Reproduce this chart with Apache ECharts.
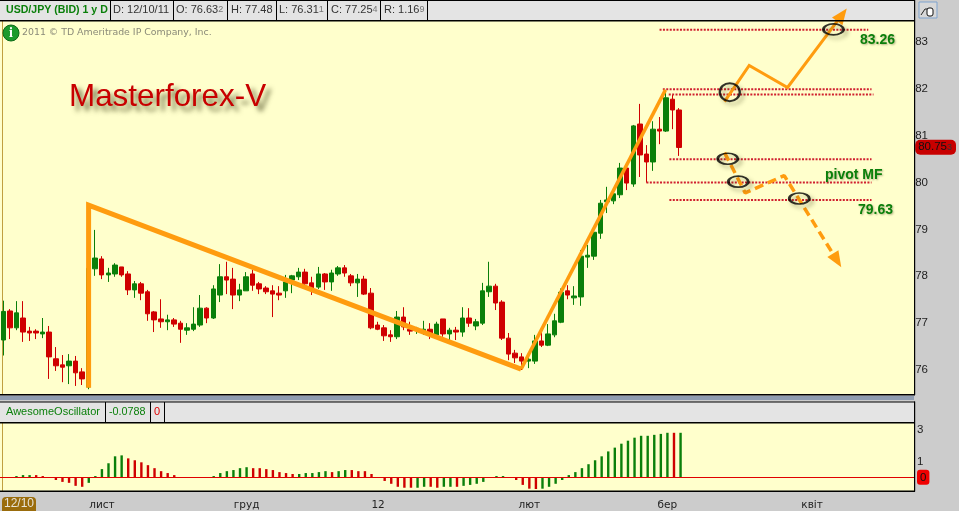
<!DOCTYPE html>
<html><head><meta charset="utf-8">
<style>html,body{margin:0;padding:0;background:#ccc}#c{width:959px;height:511px}</style>
<script src="https://cdn.jsdelivr.net/npm/echarts@6/dist/echarts.min.js"></script>
</head><body><div id="c"></div>
<script>
const opens=[76.64,77.26,76.90,77.11,76.83,76.83,76.77,76.81,76.24,76.11,76.09,76.19,75.96,75.64,78.16,78.37,78.03,78.05,78.20,78.05,77.71,77.84,77.67,77.24,77.09,77.03,77.07,77.00,76.85,76.87,76.96,77.32,77.11,77.60,77.99,77.94,77.60,77.69,78.05,77.84,77.75,77.69,77.64,77.69,77.92,77.99,78.09,77.86,77.77,78.05,77.88,78.05,78.18,78.01,77.86,77.94,77.64,76.96,76.90,76.75,76.71,77.13,76.87,76.85,76.83,76.87,76.75,77.09,76.77,76.85,76.81,77.11,76.94,77.00,77.67,77.79,77.45,76.68,76.36,76.28,76.19,76.19,76.62,76.53,76.75,77.02,77.69,77.54,77.56,78.41,78.43,78.92,79.59,79.61,79.74,80.31,79.97,81.25,80.61,80.44,81.14,81.10,81.78,81.55];
const closes=[77.25,76.90,77.22,76.81,76.79,76.79,76.81,76.28,76.09,76.06,76.19,75.94,75.81,78.17,78.39,78.03,78.07,78.24,78.03,77.71,77.84,77.64,77.20,77.07,77.03,77.07,76.98,76.87,76.90,76.98,77.32,77.11,77.73,77.99,77.92,77.60,77.71,77.99,77.81,77.73,77.67,77.62,77.60,77.88,78.01,78.09,77.84,77.75,78.05,77.88,78.07,78.18,78.07,77.86,77.94,77.62,76.90,76.87,76.73,76.71,77.13,76.92,76.83,76.89,76.87,76.75,76.98,76.77,76.85,76.81,77.11,77.00,77.03,77.69,77.79,77.43,76.68,76.34,76.26,76.19,76.23,76.62,76.53,76.77,77.05,77.66,77.60,77.58,78.43,78.45,78.94,79.56,79.63,79.76,80.31,79.99,81.21,80.59,80.44,81.14,81.10,81.81,81.55,80.75];
const lows=[76.31,76.66,76.85,76.60,76.62,76.66,76.68,75.81,75.98,75.74,75.70,75.66,75.68,75.59,78.01,77.94,77.88,77.99,77.99,77.60,77.54,77.49,77.05,76.81,76.90,76.85,76.92,76.58,76.75,76.83,76.92,77.00,77.09,77.45,77.62,77.30,77.47,77.69,77.69,77.62,77.62,77.13,77.49,77.54,77.64,77.92,77.81,77.60,77.73,77.71,77.69,78.01,77.99,77.79,77.56,77.60,76.87,76.85,76.62,76.60,76.66,76.85,76.75,76.77,76.75,76.66,76.75,76.71,76.64,76.64,76.71,76.92,76.85,76.96,77.56,77.28,76.64,76.21,76.15,76.00,76.04,76.13,76.49,76.51,76.70,77.00,77.51,77.39,77.37,78.18,78.35,78.80,79.35,79.54,79.67,79.84,79.91,80.12,80.00,80.25,80.82,81.08,81.14,80.57];
const highs=[77.48,77.30,77.47,77.47,76.92,76.87,77.11,76.94,76.49,76.32,76.34,76.30,76.04,79.54,78.99,78.43,78.18,78.28,78.20,78.11,77.90,77.88,77.71,77.26,77.51,77.18,77.11,77.05,77.00,77.34,77.60,77.34,77.81,78.26,78.31,78.18,77.84,78.09,78.14,77.88,77.79,77.81,77.79,78.03,78.03,78.18,78.16,77.99,78.20,78.07,78.14,78.22,78.24,78.05,78.05,78.01,77.75,77.03,76.96,76.85,77.26,77.34,77.03,76.92,77.05,77.00,77.03,77.09,76.90,76.92,77.34,77.32,77.09,77.86,78.31,77.84,77.49,76.79,76.43,76.36,76.32,76.75,76.81,76.98,77.20,77.74,77.81,77.79,78.56,78.67,78.94,79.63,79.91,79.86,80.42,80.31,81.23,81.68,80.80,81.31,81.40,81.98,81.87,81.59];
const aoValues=[null,null,0.08,0.14,0.14,0.14,0.08,null,-0.17,-0.29,-0.35,-0.54,-0.6,-0.35,0.08,0.52,0.89,1.33,1.39,1.2,1.08,0.95,0.77,0.58,0.39,0.27,0.14,null,null,null,0.02,null,0.08,0.27,0.39,0.46,0.58,0.64,0.58,0.58,0.52,0.46,0.33,0.27,0.21,0.21,0.27,0.27,0.33,0.39,0.33,0.39,0.46,0.46,0.39,0.39,0.21,null,-0.23,-0.41,-0.6,-0.66,-0.66,-0.66,-0.6,-0.6,-0.66,-0.6,-0.6,-0.6,-0.54,-0.48,-0.41,-0.29,null,0.08,0.08,null,-0.17,-0.48,-0.72,-0.79,-0.72,-0.6,-0.41,-0.17,0.14,0.33,0.58,0.83,1.08,1.33,1.64,1.88,2.13,2.32,2.51,2.63,2.63,2.69,2.75,2.82,2.82,2.82];
const aoRising=[1,1,1,1,1,0,0,0,0,0,0,0,0,1,1,1,1,1,1,0,0,0,0,0,0,0,0,0,1,1,1,1,1,1,1,1,1,1,0,0,0,0,0,0,0,1,1,1,1,1,0,1,1,0,0,0,0,0,0,0,0,0,0,1,1,0,0,1,1,0,1,1,1,1,1,1,1,0,0,0,0,0,1,1,1,1,1,1,1,1,1,1,1,1,1,1,1,1,1,1,1,1,0,1];
const monthTicks=[15,37,57,80,101,123];
const monthNames=['лист','груд','12','лют','бер','квіт'];
const priceTicks=[76,77,78,79,80,81,82,83];
const lastPrice=80.753;
const aoTicks=[0,1,3];
const legDown=[[13,75.62],[13,79.52],[78.9,76.02]];
const legUp=[[78.9,76.02],[100.9,81.98]];
const scenarioUp=[[109.9,81.73],[113.66,82.50],[119.5,82.03],[127.8,83.58]];
const scenarioDown=[[109.9,80.64],[113.05,79.78],[119.0,80.15],[127.05,78.34]];
const levelPrices=[83.26,81.99,81.88,80.50,80.00,79.63];
const levelFrom=[100,100.5,101.4,101.5,98,101.5];
const levelTo=[131.8,132.3,132.6,132.3,132.3,132.3];
const circled=[[126.5,83.27],[110.7,81.93],[110.4,80.51],[112.0,80.02],[121.3,79.66]];
const bandCount=139;

const categories=Array.from({length:bandCount},(_,i)=>{const k=monthTicks.indexOf(i);return k>=0?monthNames[k]:''});
const candles=opens.map((o,i)=>[o,closes[i],lows[i],highs[i]]);
const GREEN='#0a7f0a',RED='#cf0000',ORANGE='#ff9c0f',FONT='"Liberation Sans",Arial,sans-serif';

function rect(x,y,w,h,fill,z,extra){return Object.assign({type:'rect',shape:{x,y,width:w,height:h},style:{fill},z:z||0,silent:true},extra||{})}
function txt(x,y,t,fill,size,extra,z){return {type:'text',x,y,z:z||20,silent:true,style:Object.assign({text:t,fill,font:(size||11)+'px '+FONT,textVerticalAlign:'middle'},extra||{})}}
function valueCell(x,main,tail){return {type:'text',x,y:10,z:20,silent:true,style:{text:'{m|'+main+'}{s|'+tail+'}',textVerticalAlign:'middle',rich:{m:{font:'11px '+FONT,fill:'#333'},s:{font:'9px '+FONT,fill:'#777'}}}}}
const softShadow={textShadowColor:'rgba(70,70,30,0.4)',textShadowBlur:2,textShadowOffsetX:1,textShadowOffsetY:1};

const gfx=[
 rect(0,21,914,373,'#ffffcc'),rect(0,423,914,68,'#ffffcc'),
 rect(0,1,914,19,'#e4e4e4'),rect(0,402,914,20,'#e4e4e4'),
 rect(0,396,914,4,'#8f9cb0'),
 rect(2,21,1,373,'#c0a040',1),rect(2,423,1,68,'#c0a040',1),
 rect(0,0,915,1,'#000',10),rect(0,20,915,1.5,'#000',10),rect(0,394,915,1.5,'#000',10),
 rect(0,401.5,915,1,'#000',10),rect(0,422,915,1.5,'#000',10),rect(0,490.5,915,1.5,'#000',10),
 rect(914,0,1.2,395,'#000',10),rect(914,401.5,1.2,90,'#000',10),
 ...[110,173,227,276,327,380,427].map(x=>rect(x,1,1,19,'#000',10)),
 ...[105,150,164].map(x=>rect(x,402,1,20,'#000',10)),
 txt(6,10,'USD/JPY (BID) 1 y D',GREEN,11,{font:'bold 10.6px '+FONT}),
 txt(113,10,'D: 12/10/11','#333',11),
 valueCell(176,'O: 76.63','2'),
 txt(231,10,'H: 77.48','#333',11),
 valueCell(279,'L: 76.31','1'),
 valueCell(331,'C: 77.25','4'),
 valueCell(384,'R: 1.16','9'),
 txt(6,412,'AwesomeOscillator',GREEN,11),
 txt(109,412,'-0.0788',GREEN,10.8),
 txt(154,412,'0','#e00000',11),
 {type:'circle',shape:{cx:11,cy:33,r:8},z:15,silent:true,style:{fill:'#1c9a2c',stroke:'#0c6a18',lineWidth:1}},
 txt(11,33,'i','#fff',13,{font:'bold 14px "Liberation Serif",serif',textAlign:'center'}),
 txt(22,33,'2011 © TD Ameritrade IP Company, Inc.','#8a8a78',9.4,{font:'9.4px "DejaVu Sans",sans-serif'}),
 txt(69,97,'Masterforex-V','#c80000',31.4,{font:'31.4px '+FONT,textShadowColor:'rgba(70,70,30,0.75)',textShadowBlur:5,textShadowOffsetX:5,textShadowOffsetY:5}),
 txt(860,40,'83.26',GREEN,14,Object.assign({font:'bold 14px '+FONT},softShadow)),
 txt(858,210,'79.63',GREEN,14,Object.assign({font:'bold 14px '+FONT},softShadow)),
 txt(825,175,'pivot MF',GREEN,14,Object.assign({font:'bold 14px '+FONT},softShadow)),
 rect(919,2,18,16,'#e4e4e4',12,{style:{fill:'#d8d8d8',stroke:'#7fa3cf',lineWidth:1}}),
 {type:'polyline',z:13,silent:true,shape:{points:[[921,15],[925,9],[932,9]]},style:{stroke:'#222',lineWidth:1,fill:null}},
 {type:'rect',z:13,silent:true,shape:{x:927,y:8,width:6,height:8,r:2},style:{fill:'#fff',stroke:'#111',lineWidth:1}},
 {type:'rect',z:15,silent:true,shape:{x:2,y:497,width:34,height:14,r:[4,4,0,0]},style:{fill:'#9a6c0c'}},
 txt(19,504,'12/10','#e8e4d8',12,{textAlign:'center',font:'12px '+FONT}),
];

const upDownColor=params=>aoRising[params.dataIndex]?GREEN:RED;
const dotted={color:'#d0202f',width:2,type:[2,1.4],cap:'butt'};
const thick=w=>({color:ORANGE,width:w,join:'miter',cap:'butt'});
function overlay(name,data,w,extra){return Object.assign({name,type:'line',xAxisIndex:2,yAxisIndex:0,data,symbol:'none',clip:false,silent:true,z:6,lineStyle:thick(w),animation:false},extra||{})}
function withArrow(points,rotate){return points.map((p,i)=>i===points.length-1?{value:p,symbol:'triangle',symbolSize:[13,16],symbolRotate:rotate,itemStyle:{color:ORANGE}}:{value:p})}
const ellipseSize=(v,p)=>p.dataIndex===1?[20,18]:[20,11];

const levelSeries=levelPrices.map((p,i)=>({type:'line',name:'level '+p,xAxisIndex:2,yAxisIndex:0,data:[[levelFrom[i],p],[levelTo[i],p]],symbol:'none',silent:true,z:5,lineStyle:dotted,animation:false}));

const option={
 animation:false,backgroundColor:'#cccccc',
 textStyle:{fontFamily:FONT},
 graphic:{elements:gfx},
 grid:[{left:0,top:21,width:914,height:373,containLabel:false},{left:0,top:423,width:914,height:68,containLabel:false}],
 xAxis:[
  {type:'category',gridIndex:0,data:categories,show:false,boundaryGap:true},
  {type:'category',gridIndex:1,data:categories,boundaryGap:true,position:'bottom',
   axisLine:{show:false},axisTick:{show:false},splitLine:{show:false},
   axisLabel:{interval:0,hideOverlap:false,color:'#222',margin:11,fontSize:10.5,fontFamily:'"DejaVu Sans",sans-serif'},z:3},
  {type:'value',gridIndex:0,show:false,min:-0.5,max:bandCount-0.5,splitLine:{show:false}}
 ],
 yAxis:[
  {type:'value',gridIndex:0,position:'right',min:75.488,max:83.449,scale:true,
   axisLine:{show:false},axisTick:{show:false},splitLine:{show:false},
   axisLabel:{customValues:[...priceTicks,lastPrice],margin:3,fontSize:11.5,color:'#222',fontFamily:FONT,
    formatter:v=>{if(v===lastPrice){const s=v.toFixed(3);return '{a|'+s.slice(0,5)+'}{b|'+s.slice(5)+'}'}return String(v)},
    rich:{a:{backgroundColor:'#c80000',color:'#111',fontSize:11.5,padding:[2,0,2,3],borderRadius:[5,0,0,5],height:11,lineHeight:11},
          b:{backgroundColor:'#c80000',color:'#333',fontSize:9,padding:[2,4,2,0],borderRadius:[0,5,5,0],height:11,lineHeight:11}}},z:6},
  {type:'value',gridIndex:1,position:'right',min:-0.74,max:3.44,scale:true,
   axisLine:{show:false},axisTick:{show:false},splitLine:{show:false},
   axisLabel:{customValues:aoTicks,margin:3,fontSize:11.5,color:'#222',fontFamily:FONT,
    formatter:v=>v===0?'{z|0}':String(v),
    rich:{z:{backgroundColor:'#f00000',color:'#111',fontSize:11.5,padding:[2,3,1,3],borderRadius:3}}},z:6}
 ],
 series:[
  {name:'USD/JPY',type:'candlestick',xAxisIndex:0,yAxisIndex:0,data:candles,barWidth:5,z:3,
   itemStyle:{color:GREEN,color0:RED,borderColor:GREEN,borderColor0:RED,borderWidth:1,borderColorDoji:RED},silent:true},
  {name:'AwesomeOscillator',type:'bar',xAxisIndex:1,yAxisIndex:1,data:aoValues,barWidth:2.4,z:3,silent:true,
   itemStyle:{color:upDownColor},
   markLine:{silent:true,symbol:'none',label:{show:false},lineStyle:{color:'#e00000',width:1,type:'solid'},data:[{yAxis:0}],animation:false}},
  ...levelSeries,
  overlay('legs down',legDown,5),
  overlay('leg up',legUp,3.5),
  overlay('scenario up',withArrow(scenarioUp,-36.5),3),
  overlay('scenario down',withArrow(scenarioDown,-148.4),3,{lineStyle:{color:ORANGE,width:3.5,type:[9,5]}}),
  {name:'levels circled',type:'scatter',xAxisIndex:2,yAxisIndex:0,data:circled,symbol:'circle',symbolSize:ellipseSize,silent:true,z:7,clip:false,
   itemStyle:{color:'rgba(0,0,0,0)',borderColor:'#000',borderWidth:2.2,shadowColor:'rgba(60,60,20,0.5)',shadowBlur:4,shadowOffsetX:3,shadowOffsetY:3}}
 ]
};
echarts.init(document.getElementById('c'),null,{renderer:'canvas'}).setOption(option);
</script></body></html>
